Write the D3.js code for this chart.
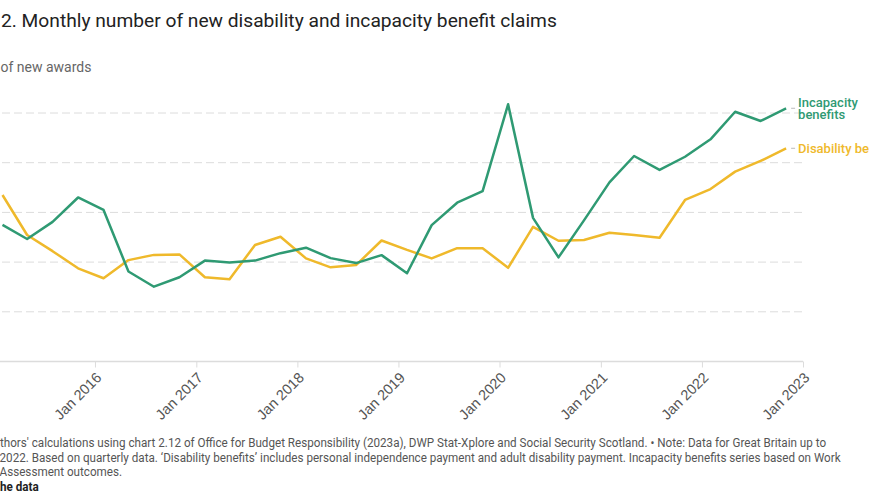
<!DOCTYPE html>
<html>
<head>
<meta charset="utf-8">
<script src="https://cdn.jsdelivr.net/npm/d3@7"></script>
<style>
  body { margin: 0; background: #fff; overflow: hidden; }
  svg { display: block; font-family: Roboto, "Noto Sans", sans-serif; }
</style>
</head>
<body>
<div id="chart"></div>
<script>
// quarterly points (plotted at middle month of each quarter)
const quarters = [
  "2015-02", "2015-05", "2015-08", "2015-11",
  "2016-02", "2016-05", "2016-08", "2016-11",
  "2017-02", "2017-05", "2017-08", "2017-11",
  "2018-02", "2018-05", "2018-08", "2018-11",
  "2019-02", "2019-05", "2019-08", "2019-11",
  "2020-02", "2020-05", "2020-08", "2020-11",
  "2021-02", "2021-05", "2021-08", "2021-11",
  "2022-02", "2022-05", "2022-08", "2022-11"
];
// number of new awards, monthly
const incapacity = [
  27500, 24650, 28100, 33000, 30500, 18100, 15050, 16950,
  20300, 19900, 20300, 21800, 22900, 20800, 19800, 21400,
  17750, 27450, 31950, 34300, 51750, 28900, 20950, 28400,
  36050, 41350, 38550, 41200, 44700, 50250, 48400, 50950
];
const disability = [
  33500, 25450, 22200, 18750, 16750, 20400, 21450, 21550,
  16950, 16550, 23450, 25100, 20750, 18950, 19400, 24350,
  22450, 20750, 22800, 22800, 18850, 27100, 24300, 24450,
  25900, 25450, 24900, 32500, 34700, 38200, 40350, 42900
];
const yTicks = [0, 10000, 20000, 30000, 40000, 50000];
const xTickYears = [2016, 2017, 2018, 2019, 2020, 2021, 2022, 2023];

const titleText = "Figure 2.2. Monthly number of new disability and incapacity benefit claims";
const subtitleText = "Number of new awards";
const footLines = [
  "Source: Authors' calculations using chart 2.12 of Office for Budget Responsibility (2023a), DWP Stat-Xplore and Social Security Scotland. \u2022 Note: Data for Great Britain up to",
  "December 2022. Based on quarterly data. \u2018Disability benefits\u2019 includes personal independence payment and adult disability payment. Incapacity benefits series based on Work",
  "Capability Assessment outcomes.",
  "Get the data"
];
// leading part of each text that the crop cuts off (plus the gap of a space)
const titleCut = "Figure 2.";
const subtitleCut = "Number ";
const footCuts = ["Source: Au", "December", "Capability", "Get t"];
const footGap = [0, 3.5, 3.5, 0];

const green = "#2f9a73";
const yellow = "#efb92b";

const svgWidth = 869, svgHeight = 504;
const svg = d3.select("#chart").append("svg")
  .attr("width", svgWidth)
  .attr("height", svgHeight);

const parse = d3.timeParse("%Y-%m");
const dates = quarters.map(parse);

const xScale = d3.scaleTime()
  .domain([new Date(2015, 0, 1), new Date(2023, 0, 1)])
  .range([-6.1, 803]);
const yScale = d3.scaleLinear()
  .domain([0, 50000])
  .range([361.5, 113]);

// helper: width of a string in a given style
function textWidth(str, size, weight) {
  const t = svg.append("text").attr("font-size", size).attr("font-weight", weight || 400).text(str);
  const w = t.node().getComputedTextLength();
  t.remove();
  return w;
}

// title + subtitle (crop cuts the left part)
svg.append("text")
  .attr("x", 1 - textWidth(titleCut, 19.2))
  .attr("y", 27)
  .attr("font-size", 19.2)
  .attr("fill", "#222")
  .text(titleText);
svg.append("text")
  .attr("x", -3 - textWidth(subtitleCut, 14))
  .attr("y", 72)
  .attr("font-size", 14)
  .attr("fill", "#666")
  .text(subtitleText);

// gridlines
const grid = svg.append("g");
grid.selectAll("line")
  .data(yTicks.filter(d => d > 0))
  .enter().append("line")
  .attr("x1", -10).attr("x2", 803)
  .attr("y1", d => yScale(d)).attr("y2", d => yScale(d))
  .attr("stroke", "#dcdcdc")
  .attr("stroke-width", 1)
  .attr("stroke-dasharray", "8,4");

// x axis
const xAxis = d3.axisBottom(xScale)
  .tickValues(xTickYears.map(y => new Date(y, 0, 1)))
  .tickFormat(d3.timeFormat("Jan %Y"))
  .tickSize(6);
const xg = svg.append("g")
  .attr("transform", `translate(0, ${yScale(0)})`)
  .call(xAxis);
xg.select(".domain").attr("stroke", "#dcdcdc").attr("stroke-width", 1.5)
  .attr("d", `M-10,0H803`);
xg.selectAll(".tick line").attr("stroke", "#dcdcdc");
xg.selectAll(".tick text")
  .attr("font-size", 14.5)
  .attr("fill", "#555")
  .attr("text-anchor", "end")
  .attr("x", 0).attr("y", 0).attr("dx", 0).attr("dy", 0)
  .attr("transform", "translate(7,17) rotate(-45)");

// lines
const line = d3.line()
  .x((d, i) => xScale(dates[i]))
  .y(d => yScale(d));

svg.append("path")
  .datum(disability)
  .attr("fill", "none")
  .attr("stroke", yellow)
  .attr("stroke-width", 2.5)
  .attr("stroke-linejoin", "round")
  .attr("d", line);
svg.append("path")
  .datum(incapacity)
  .attr("fill", "none")
  .attr("stroke", green)
  .attr("stroke-width", 2.5)
  .attr("stroke-linejoin", "round")
  .attr("d", line);

// end labels
const last = dates.length - 1;
const labels = [
  { lines: ["Incapacity", "benefits"], value: incapacity[last], color: green, dy: -6 },
  { lines: ["Disability benefits"], value: disability[last], color: yellow, dy: 0 }
];
labels.forEach(l => {
  const lx = xScale(dates[last]);
  const ly = yScale(l.value);
  svg.append("line")
    .attr("x1", lx + 5).attr("x2", lx + 9)
    .attr("y1", ly).attr("y2", ly)
    .attr("stroke", "#bbb");
  const t = svg.append("text")
    .attr("x", lx + 12)
    .attr("y", ly + l.dy)
    .attr("font-size", 13)
    .attr("font-weight", 500)
    .attr("fill", l.color);
  l.lines.forEach((s, i) => {
    t.append("tspan")
      .attr("x", lx + 12)
      .attr("dy", i === 0 ? "0.35em" : "0.9em")
      .text(s);
  });
});

// footer (narrow text, squeezed horizontally to match)
const footSize = 12.5;
const sx = 827 / (textWidth(footLines[0], footSize) - textWidth(footCuts[0], footSize));
footLines.forEach((s, i) => {
  const bold = i === 3;
  const w = bold ? 700 : 400;
  const fx = -(textWidth(footCuts[i], footSize, w) + footGap[i]) * sx;
  svg.append("text")
    .attr("transform", `translate(${fx}, ${447 + i * 14.5}) scale(${sx}, 1)`)
    .attr("font-size", footSize)
    .attr("font-weight", w)
    .attr("fill", bold ? "#222" : "#555")
    .text(s);
});
</script>
</body>
</html>
